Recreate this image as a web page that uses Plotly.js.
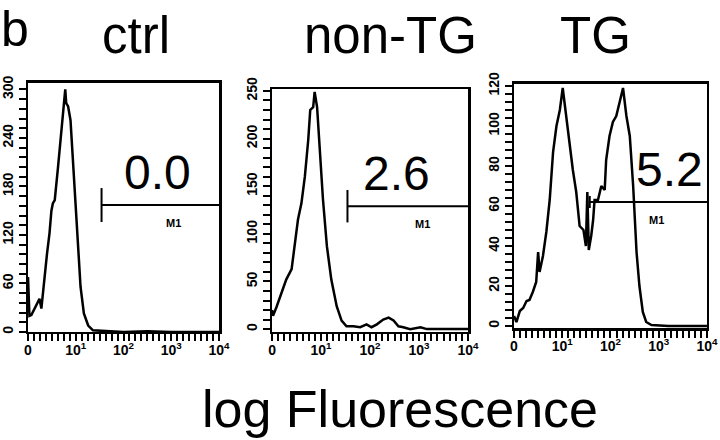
<!DOCTYPE html>
<html>
<head>
<meta charset="utf-8">
<script src="https://cdn.plot.ly/plotly-3.0.1.min.js"></script>
<style>
  html, body { margin: 0; padding: 0; background: #fff; }
  #flow { width: 720px; height: 440px; }
</style>
</head>
<body>
<div id="flow"></div>
<script>
// x values are log10 fluorescence (decades), y values are cell counts
var panelNames = ['ctrl', 'non-TG', 'TG'];
var gatePercent = ['0.0', '2.6', '5.2'];

var ctrlX = [0, 0.03, 0.07, 0.12, 0.17, 0.21, 0.24, 0.28, 0.35, 0.40, 0.45, 0.49, 0.52, 0.56, 0.63, 0.70, 0.75, 0.78, 0.80, 0.84, 0.89, 0.96, 1.03, 1.10, 1.17, 1.26, 1.36, 1.6, 2.0, 2.5, 3.0, 3.5, 4.0];
var ctrlY = [68, 20, 21, 27, 31, 36, 41, 29, 72, 98, 122, 150, 159, 163, 205, 254, 287, 300, 283, 279, 262, 192, 118, 56, 23, 8, 2, 1, 0, 1, 0, 0, 0];

var nonTgX = [0, 0.02, 0.09, 0.19, 0.29, 0.40, 0.46, 0.53, 0.60, 0.67, 0.74, 0.78, 0.84, 0.87, 0.92, 0.97, 1.04, 1.12, 1.21, 1.32, 1.42, 1.52, 1.66, 1.80, 1.93, 2.03, 2.14, 2.27, 2.38, 2.48, 2.58, 2.68, 2.82, 3.03, 3.16, 3.5, 4.0];
var nonTgY = [20, 14, 23, 37, 52, 63, 87, 115, 132, 160, 199, 230, 233, 249, 233, 192, 136, 87, 52, 24, 9, 3, 3, 2, 5, 2, 5, 10, 12, 9, 3, 2, 0, 2, 0, 0, 0];

var tgX = [0, 0.05, 0.12, 0.19, 0.26, 0.32, 0.39, 0.46, 0.50, 0.53, 0.60, 0.67, 0.74, 0.81, 0.88, 0.95, 1.01, 1.08, 1.15, 1.22, 1.29, 1.36, 1.44, 1.49, 1.52, 1.55, 1.60, 1.64, 1.67, 1.74, 1.81, 1.88, 1.91, 1.98, 2.05, 2.12, 2.19, 2.26, 2.33, 2.40, 2.47, 2.50, 2.54, 2.60, 2.67, 2.74, 2.85, 3.2, 3.6, 4.0];
var tgY = [5, 2, 7.5, 9, 12.5, 13, 17, 22, 37, 27, 35, 47, 63, 87, 100, 108, 119, 105, 92, 78, 67, 50, 48, 40, 67, 38, 45, 53, 63, 63, 70, 68, 83, 95, 102, 105, 112, 119, 105, 95, 70, 52, 37, 20, 7, 2, 0.5, 0, 0, 0];

// M1 gate: start (decades), level (counts), half height of start tick
var gateStart = [1.54, 1.54, 1.57];
var gateLevel = [157, 129, 62];
var gateTick = [21, 17, 3];
var percentX = [2.72, 2.55, 3.23];
var m1X = [3.04, 3.08, 2.96];

var yRanges = [[0, 308], [-3, 252], [-1, 121]];
var yMax = [300, 250, 120];
var yDticks = [60, 50, 20];
var yMinor = [12, 10, 4];

var xLabels = ['0', '10<sup>1</sup>', '10<sup>2</sup>', '10<sup>3</sup>', '10<sup>4</sup>'];

var xDomains = [[0.0389, 0.3042], [0.3778, 0.65], [0.7139, 0.9819]];
var yDomains = [[0.2455, 0.8114], [0.2455, 0.7977], [0.2545, 0.8091]];
var titleX = [136, 390, 595];

var FONT = 'Liberation Sans, Arial, Helvetica, sans-serif';
var seriesX = [ctrlX, nonTgX, tgX];
var seriesY = [ctrlY, nonTgY, tgY];

// tick positions incl. unlabeled minor ticks
function tickSet(max, major, minor, labelFn) {
  var vals = [], text = [];
  var n = Math.round(max / minor);
  for (var k = 0; k <= n; k++) {
    var v = k * minor;
    vals.push(v);
    var isMajor = Math.abs(v / major - Math.round(v / major)) < 1e-6;
    text.push(isMajor ? '<b>' + labelFn(v) + '</b>' : ' ');
  }
  return {vals: vals, text: text};
}

var data = [];
var shapes = [];
var annotations = [];
var layout = {
  width: 720,
  height: 440,
  margin: {l: 0, r: 0, t: 0, b: 0},
  paper_bgcolor: '#ffffff',
  plot_bgcolor: '#ffffff',
  showlegend: false,
  font: {family: FONT, color: '#000'}
};

for (var i = 0; i < 3; i++) {
  var sfx = i === 0 ? '' : String(i + 1);
  var xr = 'x' + sfx, yr = 'y' + sfx;

  data.push({
    x: seriesX[i], y: seriesY[i],
    xaxis: xr, yaxis: yr,
    type: 'scatter', mode: 'lines',
    line: {color: '#000', width: 2.5},
    hoverinfo: 'skip'
  });

  var xt = tickSet(4, 1, 0.125, function (v) { return xLabels[Math.round(v)]; });
  var yt = tickSet(yMax[i], yDticks[i], yMinor[i], function (v) { return String(Math.round(v)); });

  layout['xaxis' + sfx] = {
    domain: xDomains[i], anchor: yr,
    range: [0, 4], tickmode: 'array',
    tickvals: xt.vals, ticktext: xt.text, tickangle: 0,
    ticks: 'outside', ticklen: 7, tickwidth: 2, tickcolor: '#000',
    ticklabelstandoff: -3,
    showline: true, linecolor: '#000', linewidth: 2.5, mirror: true,
    showgrid: false, zeroline: false, fixedrange: true,
    tickfont: {family: FONT, size: 14, color: '#000'}
  };
  layout['yaxis' + sfx] = {
    domain: yDomains[i], anchor: xr,
    range: yRanges[i], tickmode: 'array',
    tickvals: yt.vals, ticktext: yt.text,
    ticks: 'outside', ticklen: 7, tickwidth: 2, tickcolor: '#000',
    tickangle: -90,
    showline: true, linecolor: '#000', linewidth: 2.5, mirror: true,
    showgrid: false, zeroline: false, fixedrange: true,
    tickfont: {family: FONT, size: 14, color: '#000'}
  };

  // gate line and its start tick
  shapes.push({type: 'line', xref: xr, yref: yr,
    x0: gateStart[i], x1: 4, y0: gateLevel[i], y1: gateLevel[i],
    line: {color: '#000', width: 2}});
  shapes.push({type: 'line', xref: xr, yref: yr,
    x0: gateStart[i], x1: gateStart[i],
    y0: gateLevel[i] - gateTick[i], y1: gateLevel[i] + gateTick[i],
    line: {color: '#000', width: 2}});

  annotations.push({xref: xr, yref: yr, x: percentX[i], y: gateLevel[i],
    yanchor: 'bottom', yshift: 4, showarrow: false, text: gatePercent[i],
    font: {family: FONT, size: 48, color: '#000'}});
  annotations.push({xref: xr, yref: yr, x: m1X[i], y: gateLevel[i],
    yanchor: 'top', yshift: -10, showarrow: false, text: '<b>M1</b>',
    font: {family: FONT, size: 11, color: '#000'}});
  annotations.push({xref: 'paper', yref: 'paper', x: titleX[i] / 720, y: 0.92,
    xanchor: 'center', yanchor: 'middle', showarrow: false, text: panelNames[i],
    font: {family: FONT, size: 51, color: '#000'}});
}

annotations.push({xref: 'paper', yref: 'paper', x: 15 / 720, y: 0.935,
  xanchor: 'center', yanchor: 'middle', showarrow: false, text: 'b',
  font: {family: FONT, size: 50, color: '#000'}});
annotations.push({xref: 'paper', yref: 'paper', x: 400 / 720, y: 0.0705,
  xanchor: 'center', yanchor: 'middle', showarrow: false, text: 'log Fluorescence',
  font: {family: FONT, size: 52, color: '#000'}});

layout.shapes = shapes;
layout.annotations = annotations;

Plotly.newPlot('flow', data, layout, {staticPlot: true, displayModeBar: false});
</script>
</body>
</html>
